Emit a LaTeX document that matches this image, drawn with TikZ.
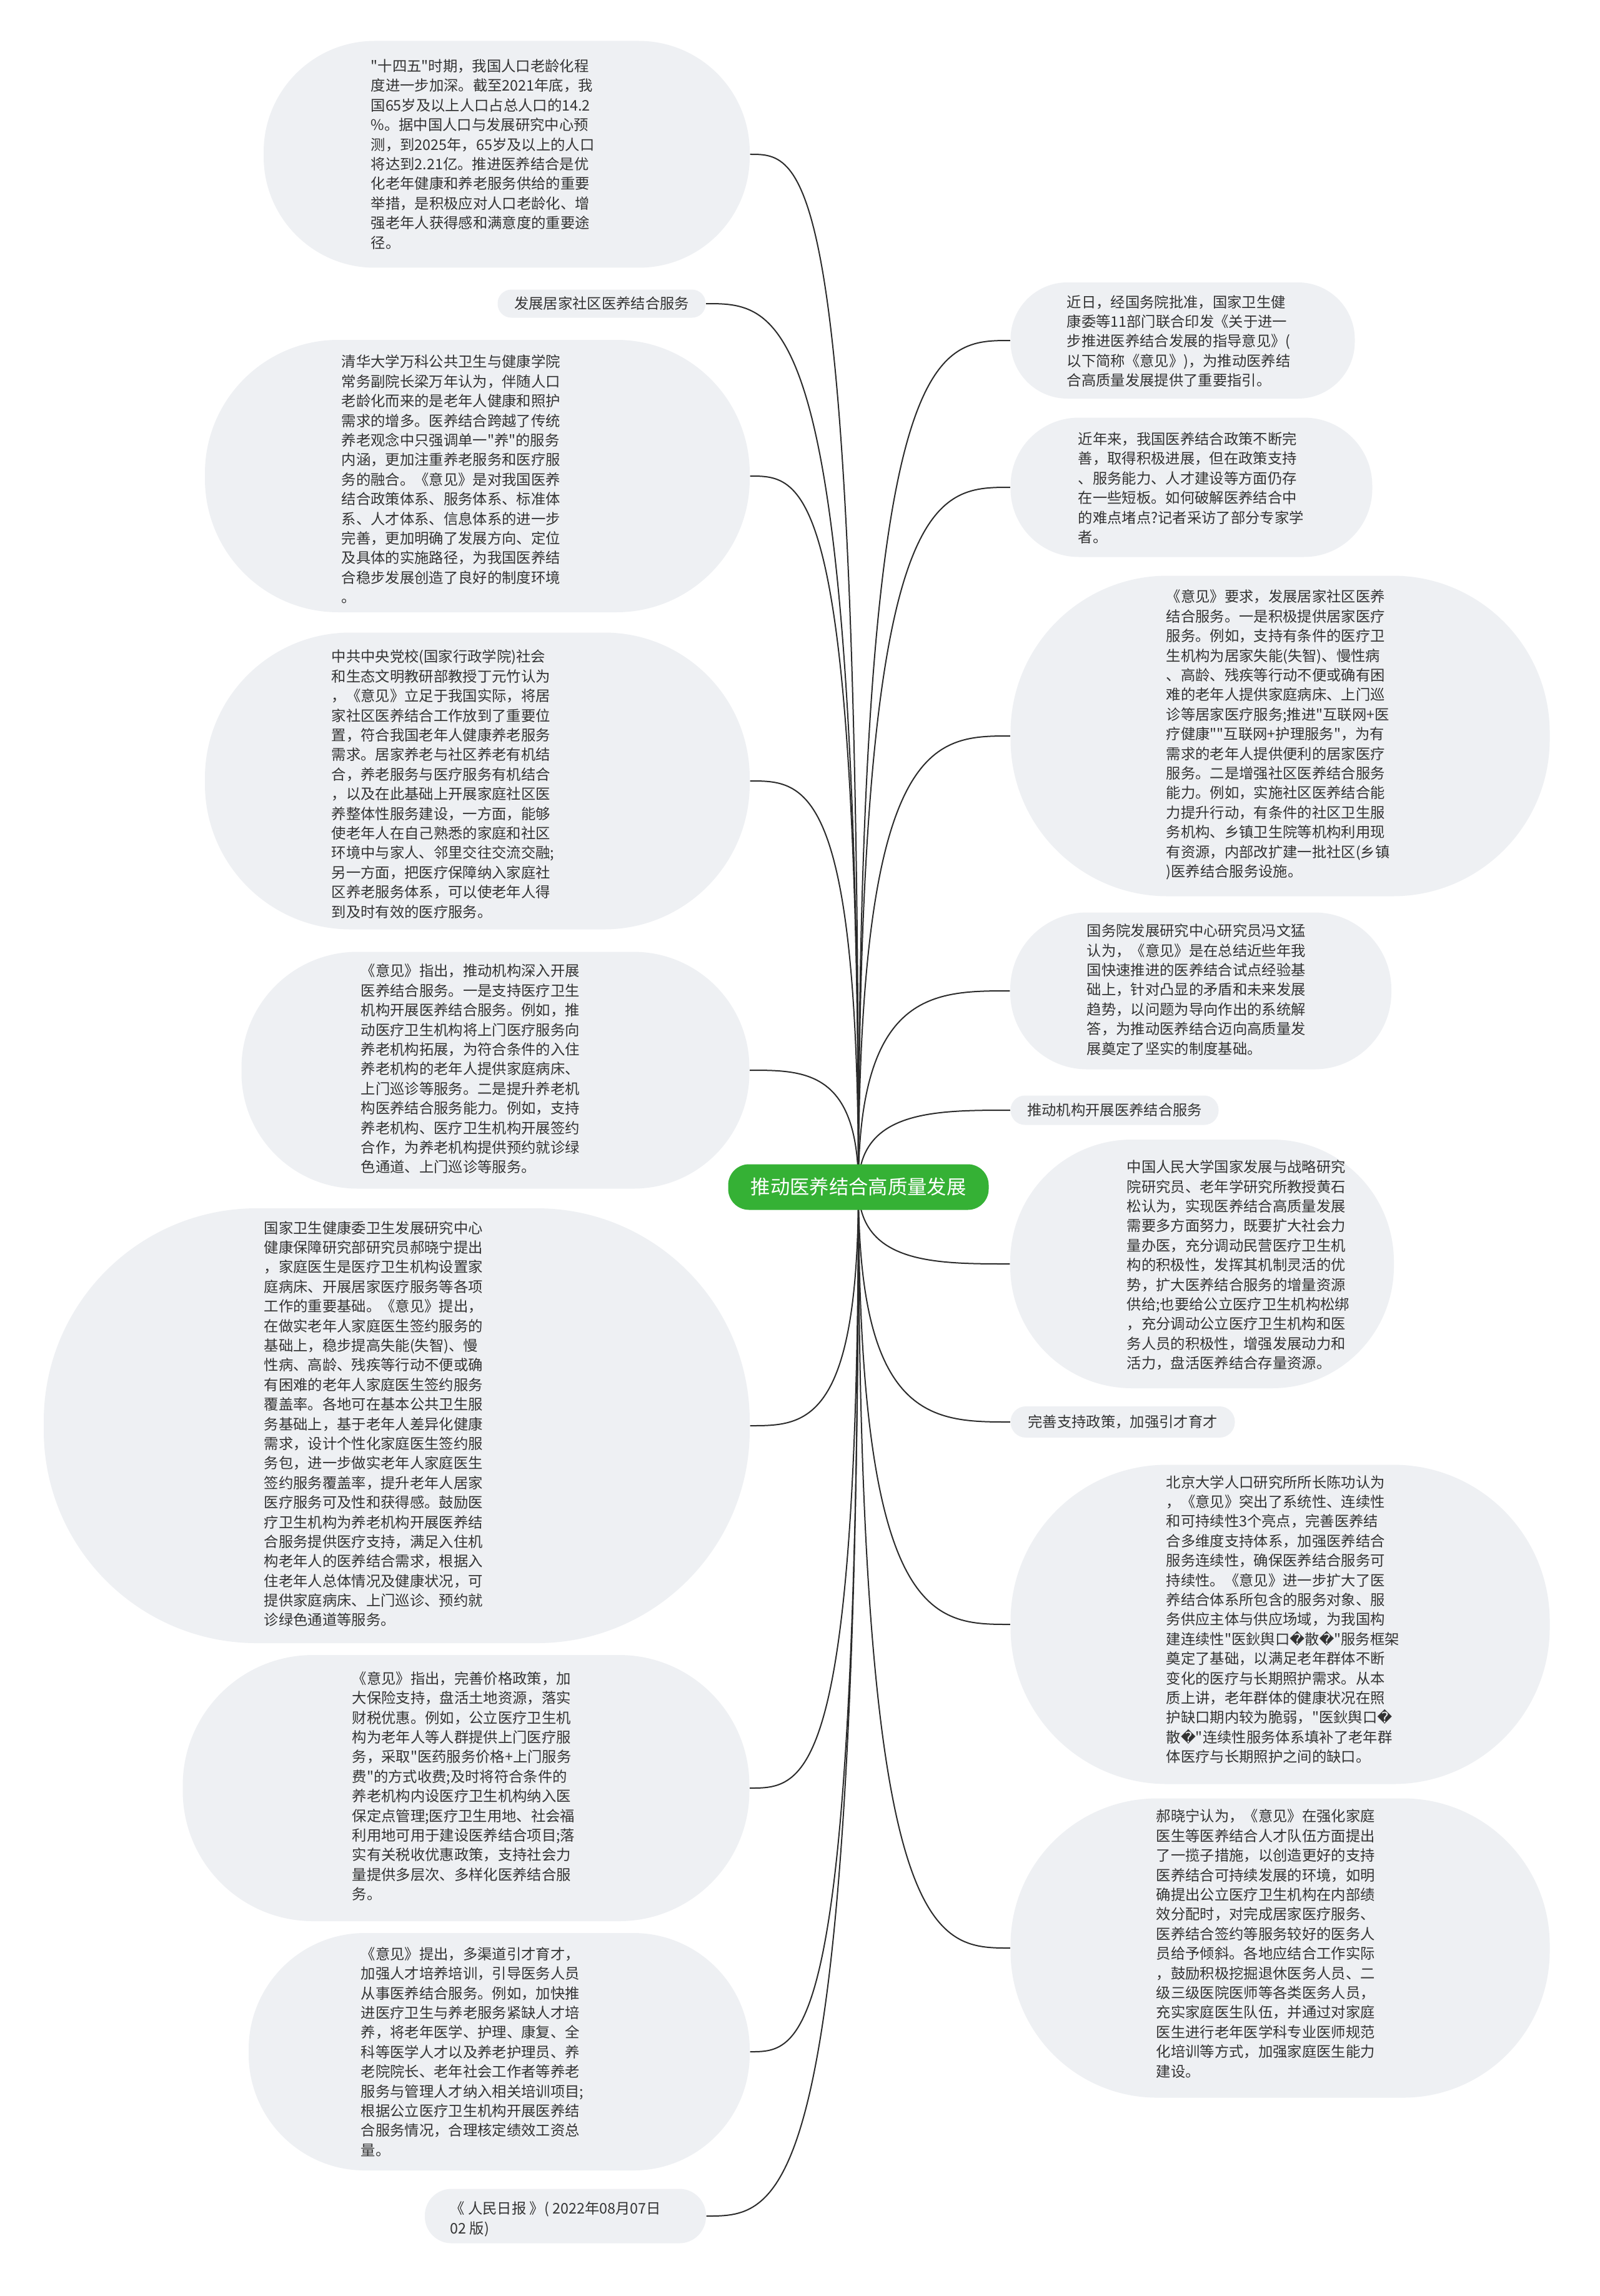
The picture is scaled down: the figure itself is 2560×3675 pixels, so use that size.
\documentclass[tikz,border=0pt]{standalone}
\usepackage{fontspec}
\setmainfont{Noto Sans CJK SC}[Ligatures=TeXOff]
\newfontfamily\repfont{DejaVu Sans}
\usetikzlibrary{calc}
\definecolor{bubfill}{HTML}{EEF0F3}
\definecolor{ctrgreen}{HTML}{35B135}
\definecolor{txtc}{HTML}{333333}
\definecolor{linec}{HTML}{2B2B2B}
\newcommand\myrep{{\repfont\symbol{"FFFD}}}
\pgfdeclarelayer{bg}
\pgfsetlayers{bg,main}
\tikzset{
  bub/.style 2 args={fill=bubfill, draw=none, inner sep=0pt,
    minimum width=#1*0.3pt, minimum height=#2*0.3pt, rounded corners=#2*0.147pt},
  txt/.style={anchor=west, align=left, inner sep=0pt, text=txtc,
    font=\fontsize{7}{9.42}\selectfont},
  lab/.style 2 args={fill=bubfill, draw=none, inner sep=0pt, text=txtc,
    font=\fontsize{7}{9.42}\selectfont,
    minimum width=#1*0.3pt, minimum height=#2*0.3pt, rounded corners=#2*0.147pt},
  ctr/.style={fill=ctrgreen, draw=none, text=white, inner sep=0pt,
    font=\fontsize{9.4}{11}\selectfont,
    minimum width=417*0.3pt, minimum height=73*0.3pt, rounded corners=10pt},
  conn/.style={draw=linec, line width=0.6pt}
}
\newcommand\connL[1]{\draw[conn] (c.center) .. controls (c.center |- #1.east) and ($(c.center |- #1.east)!0.5!(#1.east)$) .. (#1.east);}
\newcommand\connR[1]{\draw[conn] (c.center) .. controls (c.center |- #1.west) and ($(c.center |- #1.west)!0.5!(#1.west)$) .. (#1.west);}
\begin{document}
\begin{tikzpicture}[x=0.3pt, y=-0.3pt]
\begin{pgfonlayer}{bg}
\fill[white] (0,0) rectangle (2560,3675);
\end{pgfonlayer}
\useasboundingbox (0,0) rectangle (2560,3675);

% ---------- left bubbles ----------
\node[bub={778}{363}] (l1) at (811,247) {};
\node[txt] (l1t) at (593,247) {"十四五"时期，我国人口老龄化程\\
度进一步加深。截至2021年底，我\\
国65岁及以上人口占总人口的14.2\\
\%。据中国人口与发展研究中心预\\
测，到2025年，65岁及以上的人口\\
将达到2.21亿。推进医养结合是优\\
化老年健康和养老服务供给的重要\\
举措，是积极应对人口老龄化、增\\
强老年人获得感和满意度的重要途\\
径。};

\node[lab={333}{45}] (l2) at (963,486) {发展居家社区医养结合服务};

\node[bub={872}{436}] (l3) at (764,762) {};
\node[txt] (l3t) at (546,767) {清华大学万科公共卫生与健康学院\\
常务副院长梁万年认为，伴随人口\\
老龄化而来的是老年人健康和照护\\
需求的增多。医养结合跨越了传统\\
养老观念中只强调单一"养"的服务\\
内涵，更加注重养老服务和医疗服\\
务的融合。《意见》是对我国医养\\
结合政策体系、服务体系、标准体\\
系、人才体系、信息体系的进一步\\
完善，更加明确了发展方向、定位\\
及具体的实施路径，为我国医养结\\
合稳步发展创造了良好的制度环境\\
。};

\node[bub={872}{475}] (l4) at (764,1250) {};
\node[txt] (l4t) at (530,1255) {中共中央党校(国家行政学院)社会\\
和生态文明教研部教授丁元竹认为\\
，《意见》立足于我国实际，将居\\
家社区医养结合工作放到了重要位\\
置，符合我国老年人健康养老服务\\
需求。居家养老与社区养老有机结\\
合，养老服务与医疗服务有机结合\\
，以及在此基础上开展家庭社区医\\
养整体性服务建设，一方面，能够\\
使老年人在自己熟悉的家庭和社区\\
环境中与家人、邻里交往交流交融;\\
另一方面，把医疗保障纳入家庭社\\
区养老服务体系，可以使老年人得\\
到及时有效的医疗服务。};

\node[bub={813}{379}] (l5) at (793,1713) {};
\node[txt] (l5t) at (577,1711) {《意见》指出，推动机构深入开展\\
医养结合服务。一是支持医疗卫生\\
机构开展医养结合服务。例如，推\\
动医疗卫生机构将上门医疗服务向\\
养老机构拓展，为符合条件的入住\\
养老机构的老年人提供家庭病床、\\
上门巡诊等服务。二是提升养老机\\
构医养结合服务能力。例如，支持\\
养老机构、医疗卫生机构开展签约\\
合作，为养老机构提供预约就诊绿\\
色通道、上门巡诊等服务。};

\node[bub={1130}{696}] (l6) at (635,2282) {};
\node[txt] (l6t) at (422,2279) {国家卫生健康委卫生发展研究中心\\
健康保障研究部研究员郝晓宁提出\\
，家庭医生是医疗卫生机构设置家\\
庭病床、开展居家医疗服务等各项\\
工作的重要基础。《意见》提出，\\
在做实老年人家庭医生签约服务的\\
基础上，稳步提高失能(失智)、慢\\
性病、高龄、残疾等行动不便或确\\
有困难的老年人家庭医生签约服务\\
覆盖率。各地可在基本公共卫生服\\
务基础上，基于老年人差异化健康\\
需求，设计个性化家庭医生签约服\\
务包，进一步做实老年人家庭医生\\
签约服务覆盖率，提升老年人居家\\
医疗服务可及性和获得感。鼓励医\\
疗卫生机构为养老机构开展医养结\\
合服务提供医疗支持，满足入住机\\
构老年人的医养结合需求，根据入\\
住老年人总体情况及健康状况，可\\
提供家庭病床、上门巡诊、预约就\\
诊绿色通道等服务。};

\node[bub={907}{426}] (l7) at (746,2862) {};
\node[txt] (l7t) at (563,2859) {《意见》指出，完善价格政策，加\\
大保险支持，盘活土地资源，落实\\
财税优惠。例如，公立医疗卫生机\\
构为老年人等人群提供上门医疗服\\
务，采取"医药服务价格+上门服务\\
费"的方式收费;及时将符合条件的\\
养老机构内设医疗卫生机构纳入医\\
保定点管理;医疗卫生用地、社会福\\
利用地可用于建设医养结合项目;落\\
实有关税收优惠政策，支持社会力\\
量提供多层次、多样化医养结合服\\
务。};

\node[bub={802}{380}] (l8) at (799,3284) {};
\node[txt] (l8t) at (577,3284) {《意见》提出，多渠道引才育才，\\
加强人才培养培训，引导医务人员\\
从事医养结合服务。例如，加快推\\
进医疗卫生与养老服务紧缺人才培\\
养，将老年医学、护理、康复、全\\
科等医学人才以及养老护理员、养\\
老院院长、老年社会工作者等养老\\
服务与管理人才纳入相关培训项目;\\
根据公立医疗卫生机构开展医养结\\
合服务情况，合理核定绩效工资总\\
量。};

\node[bub={450}{87}] (l9) at (905,3547) {};
\node[txt] (l9t) at (720,3552) {《 人民日报 》( 2022年08月07日\\
02 版)};

% ---------- right bubbles ----------
\node[bub={551}{186}] (r1) at (1893,545) {};
\node[txt] (r1t) at (1707,546) {近日，经国务院批准，国家卫生健\\
康委等11部门联合印发《关于进一\\
步推进医养结合发展的指导意见》(\\
以下简称《意见》)，为推动医养结\\
合高质量发展提供了重要指引。};

\node[bub={579}{223}] (r2) at (1907,780) {};
\node[txt] (r2t) at (1725,781) {近年来，我国医养结合政策不断完\\
善，取得积极进展，但在政策支持\\
、服务能力、人才建设等方面仍存\\
在一些短板。如何破解医养结合中\\
的难点堵点?记者采访了部分专家学\\
者。};

\node[bub={863}{513}] (r3) at (2049,1178) {};
\node[txt] (r3t) at (1866,1176) {《意见》要求，发展居家社区医养\\
结合服务。一是积极提供居家医疗\\
服务。例如，支持有条件的医疗卫\\
生机构为居家失能(失智)、慢性病\\
、高龄、残疾等行动不便或确有困\\
难的老年人提供家庭病床、上门巡\\
诊等居家医疗服务;推进"互联网+医\\
疗健康""互联网+护理服务"，为有\\
需求的老年人提供便利的居家医疗\\
服务。二是增强社区医养结合服务\\
能力。例如，实施社区医养结合能\\
力提升行动，有条件的社区卫生服\\
务机构、乡镇卫生院等机构利用现\\
有资源，内部改扩建一批社区(乡镇\\
)医养结合服务设施。};

\node[bub={610}{251}] (r4) at (1922,1586) {};
\node[txt] (r4t) at (1739,1584) {国务院发展研究中心研究员冯文猛\\
认为，《意见》是在总结近些年我\\
国快速推进的医养结合试点经验基\\
础上，针对凸显的矛盾和未来发展\\
趋势，以问题为导向作出的系统解\\
答，为推动医养结合迈向高质量发\\
展奠定了坚实的制度基础。};

\node[lab={333}{47}] (r5) at (1784,1777) {推动机构开展医养结合服务};

\node[bub={614}{398}] (r6) at (1924,2023) {};
\node[txt] (r6t) at (1803,2025) {中国人民大学国家发展与战略研究\\
院研究员、老年学研究所教授黄石\\
松认为，实现医养结合高质量发展\\
需要多方面努力，既要扩大社会力\\
量办医，充分调动民营医疗卫生机\\
构的积极性，发挥其机制灵活的优\\
势，扩大医养结合服务的增量资源\\
供给;也要给公立医疗卫生机构松绑\\
，充分调动公立医疗卫生机构和医\\
务人员的积极性，增强发展动力和\\
活力，盘活医养结合存量资源。};

\node[lab={359}{50}] (r7) at (1797,2276) {完善支持政策，加强引才育才};

\node[bub={863}{511}] (r8) at (2049,2600) {};
\node[txt] (r8t) at (1866,2592) {北京大学人口研究所所长陈功认为\\
，《意见》突出了系统性、连续性\\
和可持续性3个亮点，完善医养结\\
合多维度支持体系，加强医养结合\\
服务连续性，确保医养结合服务可\\
持续性。《意见》进一步扩大了医\\
养结合体系所包含的服务对象、服\\
务供应主体与供应场域，为我国构\\
建连续性"医鈥舆口\myrep 散\myrep"服务框架\\
奠定了基础，以满足老年群体不断\\
变化的医疗与长期照护需求。从本\\
质上讲，老年群体的健康状况在照\\
护缺口期内较为脆弱，"医鈥舆口\myrep\\
散\myrep"连续性服务体系填补了老年群\\
体医疗与长期照护之间的缺口。};

\node[bub={863}{479}] (r9) at (2049,3118) {};
\node[txt] (r9t) at (1850,3111) {郝晓宁认为，《意见》在强化家庭\\
医生等医养结合人才队伍方面提出\\
了一揽子措施，以创造更好的支持\\
医养结合可持续发展的环境，如明\\
确提出公立医疗卫生机构在内部绩\\
效分配时，对完成居家医疗服务、\\
医养结合签约等服务较好的医务人\\
员给予倾斜。各地应结合工作实际\\
，鼓励积极挖掘退休医务人员、二\\
级三级医院医师等各类医务人员，\\
充实家庭医生队伍，并通过对家庭\\
医生进行老年医学科专业医师规范\\
化培训等方式，加强家庭医生能力\\
建设。};

% ---------- center ----------
\node[ctr] (c) at (1374,1900) {推动医养结合高质量发展};

\begin{pgfonlayer}{bg}
\connL{l1}\connL{l2}\connL{l3}\connL{l4}\connL{l5}
\connL{l6}\connL{l7}\connL{l8}\connL{l9}
\connR{r1}\connR{r2}\connR{r3}\connR{r4}\connR{r5}
\connR{r6}\connR{r7}\connR{r8}\connR{r9}
\end{pgfonlayer}
\end{tikzpicture}
\end{document}
